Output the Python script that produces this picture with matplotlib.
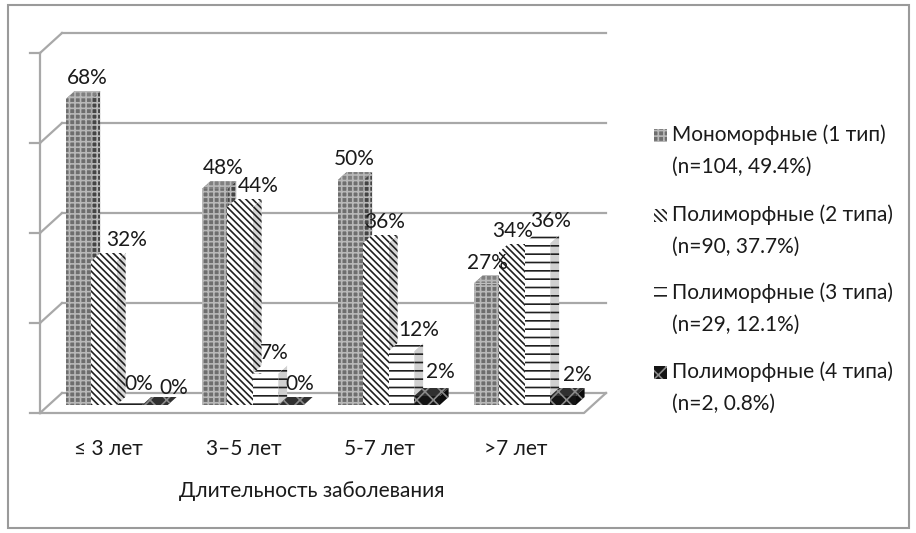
import matplotlib
matplotlib.use('Agg')
import matplotlib.pyplot as plt
from matplotlib.patches import Polygon, Rectangle

plt.rcParams['font.family'] = ['Lato', 'DejaVu Sans']
plt.rcParams['hatch.linewidth'] = 1.2

# Данные: доля пациентов по длительности заболевания
categories = ['≤ 3 лет', '3–5 лет', '5-7 лет', '>7 лет']
mono = [68, 48, 50, 27]
poly2 = [32, 44, 36, 34]
poly3 = [0, 7, 12, 36]
poly4 = [0, 0, 2, 2]
series = [mono, poly2, poly3, poly4]
legend_lines = [
    ('Мономорфные (1 тип)', '(n=104, 49.4%)'),
    ('Полиморфные (2 типа)', '(n=90, 37.7%)'),
    ('Полиморфные (3 типа)', '(n=29, 12.1%)'),
    ('Полиморфные (4 типа)', '(n=2, 0.8%)'),
]
y_ticks = [0, 20, 40, 60, 80]
axis_title = 'Длительность заболевания'

# стиль граней: (передняя, боковая, верхняя, штриховка, цвет штриховки)
styles = [
    ('#6e6e6e', '#454545', '#808080', '+++', '#b8b8b8'),
    ('white', '#d6d6d6', 'white', '\\\\\\\\\\', '#202020'),
    ('white', '#d0d0d0', 'white', '--', '#202020'),
    ('#141414', '#0c0c0c', '#303030', 'xx', '#8a8a8a'),
]
# сдвиг подписей (в точках), чтобы не налезали друг на друга
label_nudge = {(0, 1): (10, 0), (0, 3): (7, -3), (1, 1): (7, 0), (2, 0): (-4, 0),
               (2, 2): (6, 0), (2, 3): (3, 2), (3, 0): (-6, 0), (3, 1): (-6, 0),
               (3, 2): (3, 1), (3, 3): (4, 0)}

fig = plt.figure(figsize=(9.16, 5.33), dpi=100)
W, H = 916, 533
ax = fig.add_axes([20 / W, (H - 430) / H, 600 / W, 410 / H])
ax.set_xlim(-88 / 136, 512 / 136)
ax.set_ylim(-17 / 4.5, 393 / 4.5)
ax.axis('off')

# рамка вокруг всей диаграммы
fig.add_artist(Rectangle((8 / W, 5 / H), 901 / W, 523 / H, transform=fig.transFigure,
                         fill=False, edgecolor='#9a9a9a', linewidth=1.5))

grid_c = '#a8a8a8'
Dx, Dy = 22 / 136, 20 / 4.5          # глубина "пола"
left, right = -0.5, len(categories) - 0.5

# задняя стенка и левая стенка
for t in y_ticks:
    ax.plot([left + Dx, right + Dx], [t + Dy, t + Dy], color=grid_c, lw=1.6, zorder=1)
    ax.plot([left, left + Dx], [t, t + Dy], color=grid_c, lw=1.6, zorder=1)
    ax.plot([left - 0.075, left], [t, t], color=grid_c, lw=1.6, zorder=1)
ax.plot([left, left], [0, y_ticks[-1]], color=grid_c, lw=1.6, zorder=1)
# пол
ax.plot([left, right, right + Dx], [0, 0, Dy], color=grid_c, lw=1.6, zorder=1)

# столбцы
w = 0.1875
f0, f1 = 0.4, 0.8
ddx, ddy = (f1 - f0) * Dx, (f1 - f0) * Dy
base = f0 * Dy
fs = 15
tc = '#1a1a1a'
z = 2
for i in range(len(categories)):
    for j, vals in enumerate(series):
        v = vals[i]
        front, side, top, hatch, hc = styles[j]
        x0 = i + f0 * Dx - 2 * w + j * w
        x1 = x0 + w
        b, t = base, base + v
        side_poly = [(x1, b), (x1 + ddx, b + ddy), (x1 + ddx, t + ddy), (x1, t)]
        top_poly = [(x0, t), (x1, t), (x1 + ddx, t + ddy), (x0 + ddx, t + ddy)]
        ax.add_patch(Polygon(side_poly, facecolor=side, edgecolor=hc, hatch=hatch, lw=0, zorder=z))
        ax.add_patch(Polygon(top_poly, facecolor=top, edgecolor=hc, hatch=hatch, lw=0, zorder=z))
        if v > 0:
            ax.add_patch(Rectangle((x0, b), w, v, facecolor=front, edgecolor=hc,
                                   hatch=hatch, lw=0, zorder=z))
        z += 1
        nx, ny = label_nudge.get((i, j), (0, 0))
        ax.annotate(f'{v}%', xy=(x0 + w / 2 + ddx, t + ddy / 2), xytext=(nx, 5 + ny),
                    textcoords='offset points', ha='center', va='bottom',
                    fontsize=fs, color=tc, zorder=100)

# подписи категорий и оси
for i, c in enumerate(categories):
    ax.text(i, -8, c, ha='center', va='center', fontsize=fs, color=tc, clip_on=False)
ax.text((len(categories) - 1) / 2, -17.3, axis_title, ha='center', va='center',
        fontsize=fs, color=tc, clip_on=False)

# легенда
entry_y = [135, 215, 293, 372]
for (l1, l2), (front, side, top, hatch, hc), y in zip(legend_lines, styles, entry_y):
    fig.add_artist(Rectangle((654 / W, (H - y - 7) / H), 13 / W, 13 / H, transform=fig.transFigure,
                             facecolor=front, edgecolor=hc, hatch=hatch, lw=0))
    fig.text(672 / W, (H - y) / H, l1, ha='left', va='center', fontsize=fs, color=tc)
    fig.text(672 / W, (H - y - 32) / H, l2, ha='left', va='center', fontsize=fs, color=tc)

fig.savefig('out.png', dpi=100)
